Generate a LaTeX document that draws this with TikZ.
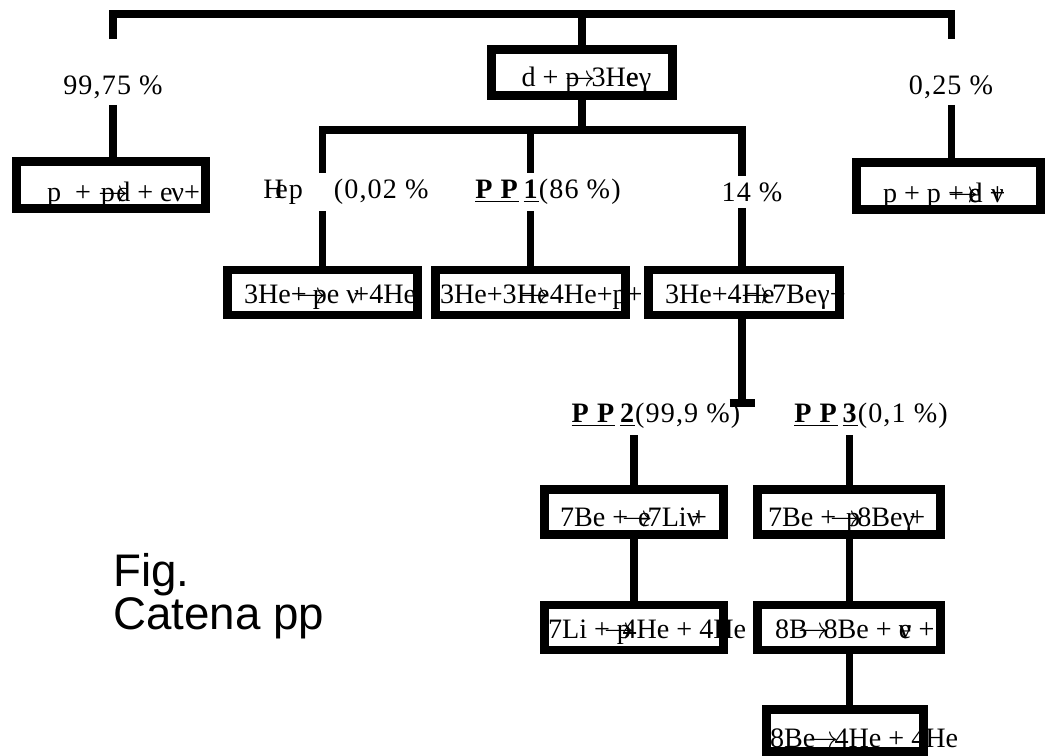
\documentclass[tikz,border=0pt]{standalone}
\usepackage{fontspec}
\setmainfont{Liberation Serif}
\newfontfamily\figfont{Liberation Sans}
\newcommand\ov[2]{\makebox[0pt][l]{#1}#2}
\newcommand\bx[3]{\makebox[#1][l]{\hspace*{#2}#3}}
\newcommand\ar{\ensuremath{\rightarrow}}
\begin{document}
\begin{tikzpicture}[x=0.02cm,y=-0.02cm,
  conn/.style={line width=4pt},
  box/.style={draw, line width=5pt, inner sep=0pt, minimum height=0.9cm, text depth=0pt, font=\fontsize{16}{19}\selectfont},
  lab/.style={inner xsep=0.05cm, inner ysep=0.12cm, font=\fontsize{16}{19}\selectfont\addfontfeature{LetterSpace=4}}]
\useasboundingbox (0,0) rectangle (1047,756);
% boxes
\node[box, minimum height=0.92cm, text height=16pt] (top) at (582,72.5) {\bx{3.62cm}{0.6cm}{d + \ov{p}{\ar}\kern-0.15em 3H\ov{e}{\kern0.015em e}γ}};
\node[box, minimum height=0.94cm, text height=18.5pt] (pp) at (111,185) {\bx{3.78cm}{0.61cm}{p\ \ + \ov{\ar}{\kern0.1em p}\kern0.05em d + e\kern-0.05emν+}};
\node[box, minimum height=0.94cm, text height=18.5pt] (ppd) at (948.5,186) {\bx{3.68cm}{0.53cm}{p + p \ov{+}{\ar}\kern-0.35em\ov{e}{d} \ov{+}{\kern0.05em ν}}};
\node[box, text height=13pt] (b1) at (322.5,292.5) {\bx{3.8cm}{0.33cm}{3He\ov{+}{\kern0.2em\ar}\kern-0.5em pe\ ν\kern-0.2em+4He}};
\node[box, text height=13pt] (b2) at (530.5,292.5) {\bx{3.8cm}{0.09cm}{3He+3\ov{He}{\kern0.1em\ar}4He+p+}};
\node[box, text height=13pt] (b3) at (744,292.5) {\bx{3.82cm}{0.33cm}{3He+4\ov{He}{\ar}7Beγ+}};
\node[box, text height=17pt] (c1) at (634,512) {\bx{3.58cm}{0.31cm}{7Be +\kern-0.2em\ov{\ar}{\kern0.55em e}\kern-0.1em 7Liν\kern-0.3em+}};
\node[box, text height=17pt] (c2) at (849,512) {\bx{3.66cm}{0.21cm}{7Be +\kern-0.2em\ov{\ar}{\kern0.55em p}\kern-0.1em 8Beγ\kern-0.2em+}};
\node[box, text height=12.5pt] (d1) at (634,627.5) {\bx{3.58cm}{0.07cm}{7Li +\kern-0.2em\ov{\ar}{\kern0.45em p}\kern-0.3em 4He + 4He}};
\node[box, text height=12.5pt] (d2) at (849,627.5) {\bx{3.66cm}{0.35cm}{8\ov{B}{\kern0.35em\ar}\kern-0.2em 8Be + \ov{e}{ν} +}};
\node[box, minimum height=0.84cm, text height=19pt] (e1) at (845,730.5) {\bx{3.14cm}{0.07cm}{8B\ov{e}{\kern0.2em\ar}\kern-0.15em 4He + 4He}};
% labels
\node[lab] (l99) at (113,87) {99,75 \%};
\node[lab] (l025) at (951,87) {0,25 \%};
\node[lab] (hep) at (346,192) {H\kern-0.3em ep\hspace{1.1em}(0,02 \%};
\node[lab] (pp1) at (548,192) {\underline{\textbf{P P}}\,\underline{\textbf{1}}(86 \%)};
\node[lab] (l14) at (752,192) {14 \%};
\node[lab] (pp2) at (656,416) {\underline{\textbf{P P}}\,\underline{\textbf{2}}(99,9 \%)};
\node[lab] (pp3) at (871,416) {\underline{\textbf{P P}}\,\underline{\textbf{3}}(0,1 \%)};
% connectors
\coordinate (tb) at (582,14);
\coordinate (bb) at (582,130);
\coordinate (tee) at (742,403);
\draw[conn] ([yshift=0.6cm]l99.north) |- (tb) -| ([yshift=0.6cm]l025.north);
\draw[conn] (tb) -- (top);
\draw[conn] (l99.south) -- (l99.south |- pp.north);
\draw[conn] (l025.south) -- (l025.south |- ppd.north);
\draw[conn] (top) -- (bb);
\draw[conn] (b1.north |- hep.north) |- (bb) -| (tee |- l14.north);
\draw[conn] (b2.north |- bb) -- (b2.north |- pp1.north);
\draw[conn] (b1.north |- hep.south) -- (b1.north);
\draw[conn] (b2.north |- pp1.south) -- (b2.north);
\draw[conn] (tee |- l14.south) -- (tee |- b3.north);
\draw[conn] (tee |- b3.south) -- (tee);
\draw[conn] ([xshift=-0.25cm]tee) -- ([xshift=0.25cm]tee);
\draw[conn] (c1.north |- pp2.south) -- (c1.north);
\draw[conn] (c2.north |- pp3.south) -- (c2.north);
\draw[conn] (c1) -- (d1);
\draw[conn] (c2) -- (d2);
\draw[conn] (d2.south) -- (d2.south |- e1.north);
% caption
\node[anchor=north west, align=left, inner sep=0pt, font=\figfont\fontsize{26}{20}\selectfont] (fig) at (113,553) {Fig.\\Catena pp};
\end{tikzpicture}
\end{document}
